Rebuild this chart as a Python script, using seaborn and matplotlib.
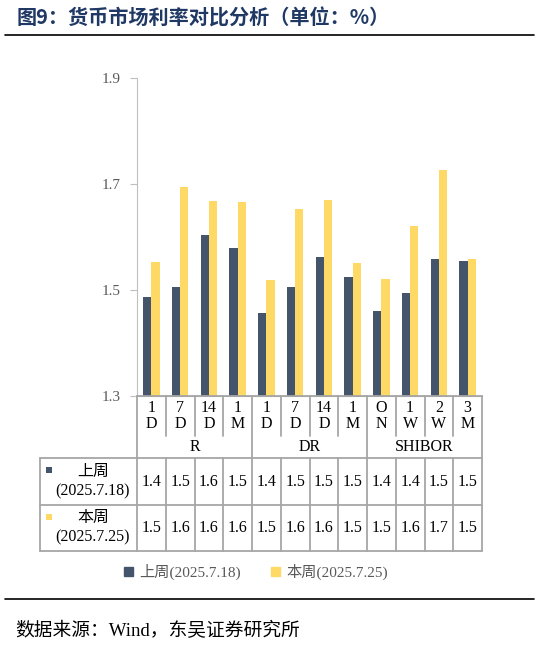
import pandas as pd
import matplotlib
matplotlib.use('Agg')
import matplotlib.pyplot as plt
from matplotlib.lines import Line2D
from matplotlib.patches import Rectangle
import seaborn as sns

# data
categories = ['1\nD', '7\nD', '14\nD', '1\nM', '1\nD', '7\nD', '14\nD', '1\nM', 'O\nN', '1\nW', '2\nW', '3\nM']
groups = ['R', 'DR', 'SHIBOR']
group_sizes = [4, 4, 4]
series_names = ['上周(2025.7.18)', '本周(2025.7.25)']
row_names = ['上周\n(2025.7.18)', '本周\n(2025.7.25)']
last_week = [1.487, 1.506, 1.603, 1.580, 1.456, 1.506, 1.563, 1.525, 1.461, 1.494, 1.559, 1.554]
this_week = [1.552, 1.694, 1.668, 1.666, 1.518, 1.652, 1.670, 1.550, 1.520, 1.620, 1.726, 1.558]
last_week_lbl = ['1.4', '1.5', '1.6', '1.5', '1.4', '1.5', '1.5', '1.5', '1.4', '1.4', '1.5', '1.5']
this_week_lbl = ['1.5', '1.6', '1.6', '1.6', '1.5', '1.6', '1.6', '1.5', '1.5', '1.6', '1.7', '1.5']
yticks = [1.3, 1.5, 1.7, 1.9]

colors = ['#44546A', '#FFD966']
grid_c = '#A6A6A6'

sns.set_style('white')
plt.rcParams['font.family'] = ['Liberation Serif', 'Noto Sans CJK SC']

W, H = 539, 646
fig = plt.figure(figsize=(W / 100, H / 100), dpi=100)

# bar area in pixels
px_l, px_r, px_t, px_b = 137, 482, 78, 396
ax = fig.add_axes([px_l / W, 1 - px_b / H, (px_r - px_l) / W, (px_b - px_t) / H])

n = len(categories)
df = pd.DataFrame({
    'pos': list(range(n)) * 2,
    'value': last_week + this_week,
    'series': [series_names[0]] * n + [series_names[1]] * n,
})
sns.barplot(data=df, x='pos', y='value', hue='series', palette=colors,
            width=0.58, saturation=1, linewidth=0, ax=ax, legend=False)
ax.set_ylim(1.3, 1.9)
ax.set_yticks(yticks)
ax.set_yticklabels([f'{v:.1f}' for v in yticks], fontsize=11, color='#595959')
ax.set_xlim(-0.5, n - 0.5)
ax.set_xticks([])
ax.set_xlabel('')
ax.set_ylabel('')
for s in ['top', 'right']:
    ax.spines[s].set_visible(False)
ax.spines['left'].set_color('#BFBFBF')
ax.spines['bottom'].set_color(grid_c)
ax.tick_params(axis='y', left=True, length=5, color='#BFBFBF', pad=7)

# data table below
upp = (px_r - px_l) / n  # pixels per category
tl, tb = 40, 551
ax_t = fig.add_axes([tl / W, 1 - tb / H, (px_r - tl) / W, (tb - px_b) / H])
x0 = -0.5 - (px_l - tl) / upp
ax_t.set_xlim(x0, n - 0.5)
ax_t.set_ylim(tb - px_b, 0)
ax_t.axis('off')

rows = [0, 40, 62, 109, 155]
lk = dict(color=grid_c, lw=1.3, clip_on=False)
ax_t.plot([-0.5, n - 0.5], [0, 0], **lk)
for yy in rows[2:]:
    ax_t.plot([x0, n - 0.5], [yy, yy], **lk)
ax_t.plot([x0, x0], [rows[2], rows[4]], **lk)
bounds = [0]
for g in group_sizes:
    bounds.append(bounds[-1] + g)
for i in range(n + 1):
    if i in bounds:
        ax_t.plot([i - 0.5] * 2, [0, rows[4]], **lk)
    else:
        ax_t.plot([i - 0.5] * 2, [0, rows[1]], **lk)
        ax_t.plot([i - 0.5] * 2, [rows[2], rows[4]], **lk)

fs = 11.5
for i, c in enumerate(categories):
    ax_t.text(i, 20, c, ha='center', va='center', fontsize=fs, color='black', linespacing=1.05)
    ax_t.text(i, 86, last_week_lbl[i], ha='center', va='center', fontsize=fs, color='black')
    ax_t.text(i, 132, this_week_lbl[i], ha='center', va='center', fontsize=fs, color='black')
for g, a, b in zip(groups, bounds[:-1], bounds[1:]):
    ax_t.text((a + b - 1) / 2, 51, g, ha='center', va='center', fontsize=fs, color='black')

for k, (name, yc) in enumerate(zip(row_names, [86, 132])):
    ax_t.add_patch(Rectangle((x0 + 6 / upp, rows[2 + k] + 9), 6 / upp, 6,
                             color=colors[k], lw=0))
    ax_t.text(x0 + 53 / upp, yc, name, ha='center', va='center', fontsize=11.5,
              color='black', linespacing=1.3)

# legend
handles = [Rectangle((0, 0), 1, 1, color=c) for c in colors]
leg = fig.legend(handles, series_names, loc='center', bbox_to_anchor=(256 / W, 1 - 572 / H),
                 ncol=2, frameon=False, fontsize=11, handlelength=0.6, handleheight=0.6,
                 handletextpad=0.4, columnspacing=2.0)
for t in leg.get_texts():
    t.set_color('#595959')

# title, rules and source
fig.text(17 / W, 1 - 18 / H, '图9：货币市场利率对比分析（单位：%）', fontsize=14.5,
         fontweight='bold', color='#1F3864', va='center', ha='left',
         family=['Noto Sans CJK SC', 'DejaVu Sans'])
fig.add_artist(Line2D([5 / W, 534 / W], [1 - 35 / H] * 2, color='black', lw=1.2))
fig.add_artist(Line2D([5 / W, 534 / W], [1 - 599 / H] * 2, color='black', lw=1.2))
fig.text(15 / W, 1 - 631 / H, '数据来源：Wind，东吴证券研究所', fontsize=13.5,
         color='black', va='center', ha='left')

fig.savefig('out.png', dpi=100)
